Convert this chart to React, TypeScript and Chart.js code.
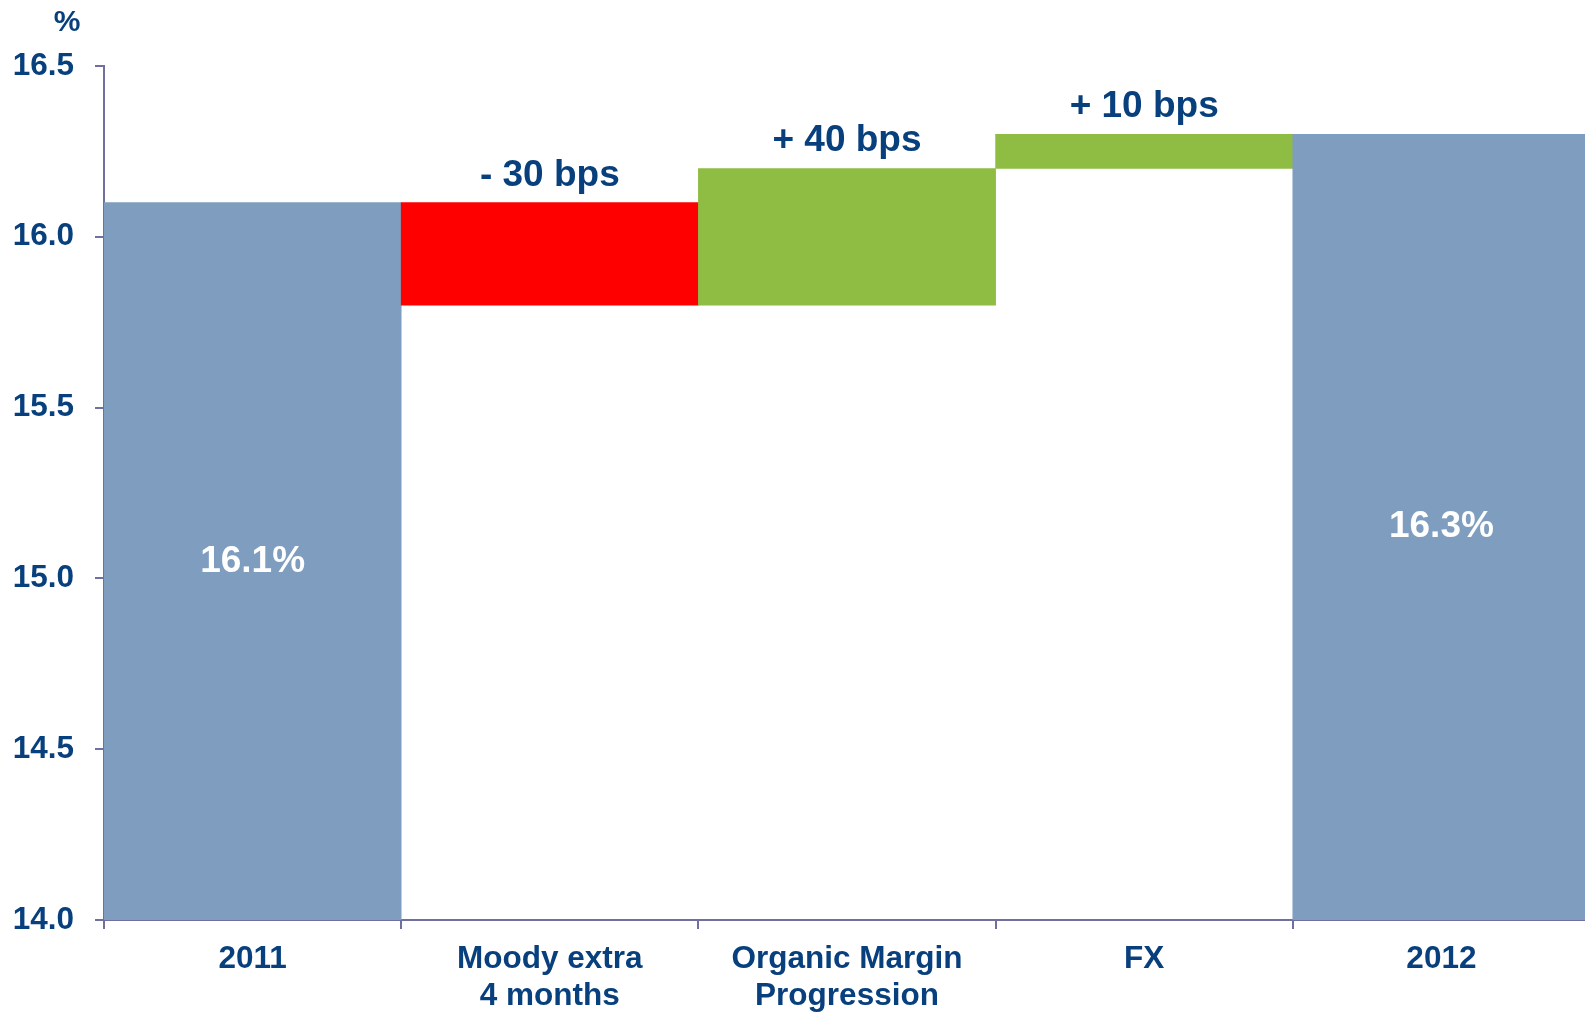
import React, { useEffect, useRef } from "react";
import { Chart, registerables } from "chart.js";

Chart.register(...registerables);

const categories: string[][] = [["2011"], ["Moody extra", "4 months"], ["Organic Margin", "Progression"], ["FX"], ["2012"]];
const lows: number[] = [14.0, 15.8, 15.8, 16.2, 14.0];
const highs: number[] = [16.1, 16.1, 16.2, 16.3, 16.3];
const topLabels: string[] = ["", "- 30 bps", "+ 40 bps", "+ 10 bps", ""];
const innerLabels: string[] = ["16.1%", "", "", "", "16.3%"];
const barColors: string[] = ["#7F9EBF", "#FF0000", "#8FBC42", "#8FBC42", "#7F9EBF"];
const unitLabel = "%";

const TEXT = "#08407E";
const AXIS = "#7070A0";
const FONT = "'Liberation Sans', Arial, sans-serif";

const labelPlugin = {
  id: "wfLabels",
  afterDatasetsDraw(chart: any) {
    const ctx = chart.ctx;
    const meta = chart.getDatasetMeta(0);
    ctx.save();
    ctx.textAlign = "center";
    meta.data.forEach((el: any, i: number) => {
      const top = Math.min(el.y, el.base);
      const bottom = Math.max(el.y, el.base);
      if (topLabels[i]) {
        ctx.fillStyle = TEXT;
        ctx.font = `bold 37px ${FONT}`;
        ctx.textBaseline = "alphabetic";
        ctx.fillText(topLabels[i], el.x, top - 17);
      }
      if (innerLabels[i]) {
        ctx.fillStyle = "#FFFFFF";
        ctx.font = `bold 37px ${FONT}`;
        ctx.textBaseline = "middle";
        ctx.fillText(innerLabels[i], el.x, (top + bottom) / 2);
      }
    });
    ctx.fillStyle = TEXT;
    ctx.font = `bold 30px ${FONT}`;
    ctx.textBaseline = "middle";
    ctx.fillText(unitLabel, 67, 23);
    ctx.restore();
  },
};

export default function App() {
  const ref = useRef<HTMLCanvasElement>(null);
  useEffect(() => {
    if (!ref.current) return;
    const chart = new Chart(ref.current, {
      type: "bar",
      data: {
        labels: categories,
        datasets: [
          {
            data: lows.map((l, i) => [l, highs[i]]) as any,
            backgroundColor: barColors,
            borderWidth: 0,
            barPercentage: 1,
            categoryPercentage: 1,
          },
        ],
      },
      options: {
        responsive: false,
        animation: false,
        layout: { padding: { top: 66, right: 0, left: 0, bottom: 0 } },
        plugins: { legend: { display: false }, tooltip: { enabled: false } },
        scales: {
          x: {
            afterFit: (s: any) => {
              s.height = 93;
            },
            grid: { display: true, drawOnChartArea: false, offset: true, color: AXIS, lineWidth: 2, tickLength: 9 },
            border: { display: true, color: AXIS, width: 2 },
            ticks: {
              color: TEXT,
              padding: 12,
              font: { family: FONT, size: 31.5, weight: "bold", lineHeight: 1.17 },
              maxRotation: 0,
              autoSkip: false,
            },
          },
          y: {
            min: 14,
            max: 16.5,
            afterFit: (s: any) => {
              s.width = 104;
            },
            grid: { display: true, drawOnChartArea: false, color: AXIS, lineWidth: 2, tickLength: 9 },
            border: { display: true, color: AXIS, width: 2 },
            ticks: {
              stepSize: 0.5,
              color: TEXT,
              padding: 21,
              font: { family: FONT, size: 31.5, weight: "bold" },
              callback: (v: any) => Number(v).toFixed(1),
            },
          },
        },
      },
      plugins: [labelPlugin],
    });
    return () => chart.destroy();
  }, []);
  return (
    <div style={{ position: "absolute", left: 0, top: 0, width: 1585, height: 1013, overflow: "hidden", background: "#fff" }}>
      <canvas ref={ref} width={1590} height={1013} style={{ display: "block" }} />
    </div>
  );
}
